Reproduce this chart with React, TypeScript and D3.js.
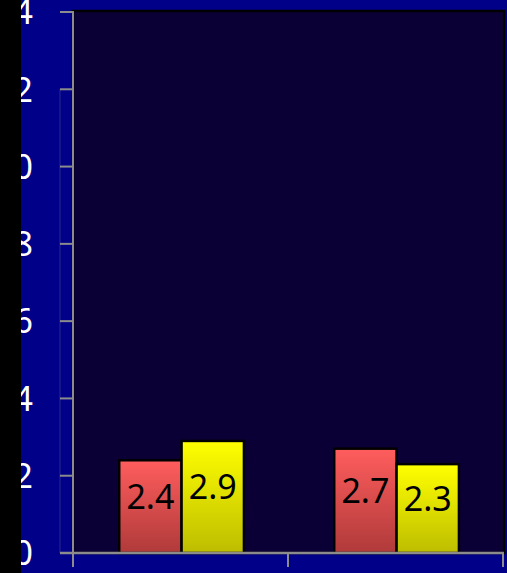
import React, { useEffect } from "react";
import * as d3 from "d3";

const categories = ["Group 1", "Group 2"];
const seriesNames = ["Series A", "Series B"];
const seriesA = [2.4, 2.7];
const seriesB = [2.9, 2.3];
const yTicks = [0, 2, 4, 6, 8, 10, 12, 14];

const W = 507;
const H = 573;
const left = 73;
const right = 503;
const top = 12;
const bottom = 553;

export default function App() {
  useEffect(() => {
    document.body.style.margin = "0";
  }, []);

  const y = d3.scaleLinear().domain([0, 14]).range([bottom, top]);
  const x = d3.scaleBand<string>().domain(categories).range([left, right]);
  const bw = x.bandwidth();
  const inner = d3
    .scaleBand<string>()
    .domain(seriesNames)
    .range([bw * 0.215, bw * 0.795]);

  const values = [seriesA, seriesB];
  const fills = ["url(#gRed)", "url(#gYel)"];
  const font = "'Noto Sans', 'Liberation Sans', sans-serif";

  return (
    <svg width={W} height={H} style={{ display: "block" }}>
      <defs>
        <linearGradient id="gRed" x1="0" y1="0" x2="0" y2="1">
          <stop offset="0" stopColor="#ff5d5d" />
          <stop offset="1" stopColor="#b03a3a" />
        </linearGradient>
        <linearGradient id="gYel" x1="0" y1="0" x2="0" y2="1">
          <stop offset="0" stopColor="#ffff00" />
          <stop offset="1" stopColor="#bdbd00" />
        </linearGradient>
      </defs>
      <rect x={0} y={0} width={W} height={H} fill="#000088" />
      {/* plot area */}
      <rect
        x={left}
        y={top - 1}
        width={right - left + 1}
        height={bottom - top + 1}
        fill="#0b0036"
        stroke="#000000"
        strokeWidth={2.5}
      />
      {/* faint wall edge */}
      <line x1={60} x2={60} y1={y(12)} y2={bottom} stroke="#1c1c8c" strokeWidth={1.5} />
      {/* bars */}
      {categories.map((c, i) =>
        seriesNames.map((s, j) => {
          const v = values[j][i];
          const bx = (x(c) as number) + (inner(s) as number);
          const by = y(v);
          const bh = bottom - by;
          const w = inner.bandwidth();
          return (
            <g key={c + s}>
              <rect
                x={bx}
                y={by}
                width={w}
                height={bh}
                fill={fills[j]}
                stroke="#000"
                strokeWidth={2.5}
              />
              <text
                x={bx + w / 2}
                y={by + bh / 2 + 2}
                textAnchor="middle"
                fontFamily={font}
                fontSize={34}
                fill="#000"
              >
                {v.toFixed(1)}
              </text>
            </g>
          );
        })
      )}
      {/* y axis */}
      <line x1={left} x2={left} y1={top - 1} y2={bottom + 14} stroke="#8c8c8c" strokeWidth={2} />
      {yTicks.map((t) => (
        <g key={t}>
          <line x1={60} x2={left} y1={y(t)} y2={y(t)} stroke="#8c8c8c" strokeWidth={2} />
          <text
            x={33}
            y={y(t)}
            dy="0.36em"
            textAnchor="end"
            fontFamily={font}
            fontSize={34}
            fill="#ffffff"
          >
            {t}
          </text>
        </g>
      ))}
      {/* x axis */}
      <line x1={60} x2={right + 1} y1={bottom} y2={bottom} stroke="#8c8c8c" strokeWidth={2.5} />
      {[left, ...categories.map((c) => (x(c) as number) + bw)].map((px, i) => (
        <line key={i} x1={px} x2={px} y1={bottom} y2={bottom + 14} stroke="#8c8c8c" strokeWidth={2} />
      ))}
      {/* black strip on left */}
      <rect x={0} y={0} width={21} height={H} fill="#000" />
    </svg>
  );
}
